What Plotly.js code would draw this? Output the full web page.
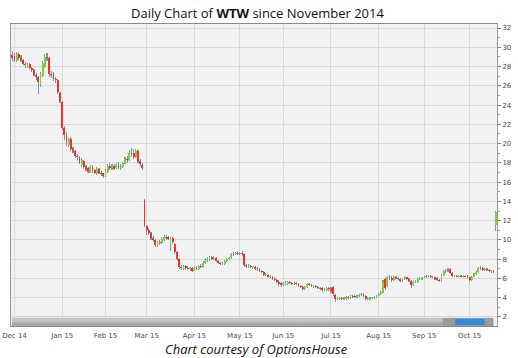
<!DOCTYPE html>
<html><head><meta charset="utf-8">
<script src="https://cdn.plot.ly/plotly-3.0.1.min.js"></script>
<style>html,body{margin:0;padding:0;background:#fff}#chart{width:518px;height:358px}</style>
</head><body><div id="chart"></div>
<script>
const startDate = '2014-11-28';
const endDate = '2015-10-19';
const holidays = ['2014-12-25','2015-01-01','2015-01-19','2015-02-16','2015-04-03','2015-05-25','2015-07-03','2015-09-07'];
const monthTickLabels = ['Dec 14','Jan 15','Feb 15','Mar 15','Apr 15','May 15','Jun 15','Jul 15','Aug 15','Sep 15','Oct 15'];
const yTickValues = [2,4,6,8,10,12,14,16,18,20,22,24,26,28,30,32];

const opens = [
 29.2,29.1,28.6,29.3,28.9,28.7,28.3,28.0,28.3,27.9,27.6,27.1,26.9,26.2,27.0,28.0,29.0,28.9,27.2,27.2,26.7,26.6,25.3,
 24.3,21.6,20.9,19.9,20.5,19.4,19.2,18.7,18.6,17.8,18.2,17.6,17.5,17.0,17.6,17.3,16.9,17.4,17.0,16.9,
 16.6,17.1,17.7,17.5,17.7,17.5,17.8,17.6,17.6,18.0,18.4,18.3,19.0,19.0,18.6,19.2,18.2,17.8,14.1,
 11.4,11.0,10.7,10.2,10.0,9.4,9.8,9.7,10.0,10.3,10.3,9.6,10.2,9.6,8.7,8.0,7.2,7.0,7.3,7.1,7.0,7.1,
 6.8,7.1,7.0,7.3,7.2,7.6,7.9,7.9,8.2,8.0,8.1,7.8,7.6,7.5,7.5,7.8,8.0,8.1,8.5,8.5,8.6,
 8.5,8.6,8.5,7.4,7.3,7.3,7.2,7.2,7.0,7.0,6.8,6.7,6.4,6.4,6.2,6.2,5.9,5.8,5.6,5.5,
 5.3,5.5,5.4,5.6,5.5,5.4,5.5,5.4,5.2,5.1,4.9,5.1,5.4,5.3,5.2,5.2,5.1,5.0,5.0,4.8,4.8,5.0,
 5.0,5.1,4.3,3.9,3.9,4.0,3.9,3.9,4.1,4.0,4.2,4.2,4.1,4.2,4.3,4.4,4.2,3.9,3.9,4.0,4.0,4.1,
 4.2,4.4,4.6,5.9,5.2,6.1,6.0,5.8,6.2,6.0,5.9,5.8,5.9,6.1,5.9,5.7,5.3,5.6,5.6,5.9,5.9,
 6.1,6.1,6.3,6.3,6.2,6.1,6.0,5.8,5.7,6.4,6.8,6.9,7.0,6.6,6.3,6.3,6.2,6.3,6.2,6.3,6.3,
 6.1,5.8,6.2,6.5,6.7,7.1,7.1,6.9,7.0,6.9,6.8,6.8,11.5
];
const highs = [
 29.6,29.4,29.5,29.5,29.2,28.8,28.5,28.4,28.4,28.0,27.7,27.3,27.0,27.4,28.6,29.3,29.4,29.0,27.5,27.4,26.9,26.7,25.4,
 24.4,21.8,21.2,20.6,20.7,19.6,19.3,18.9,18.7,18.5,18.3,17.8,17.6,17.8,17.8,17.4,17.6,17.5,17.2,17.0,
 17.4,17.9,18.0,17.9,17.9,18.0,18.1,17.9,18.1,18.6,18.7,19.3,19.5,19.4,19.4,19.3,18.4,18.0,14.2,
 11.6,11.2,10.8,10.4,10.1,9.9,10.0,10.3,10.5,10.5,10.4,10.3,10.3,9.7,8.8,8.1,7.4,7.4,7.4,7.3,7.2,7.2,
 7.2,7.3,7.4,7.5,7.8,8.1,8.2,8.3,8.3,8.3,8.2,7.9,7.7,7.7,7.9,8.1,8.2,8.6,8.7,8.7,8.8,
 8.7,8.8,8.6,7.5,7.5,7.4,7.3,7.3,7.2,7.1,6.9,6.8,6.6,6.5,6.4,6.3,6.1,5.9,5.8,5.6,
 5.6,5.7,5.7,5.7,5.6,5.6,5.6,5.5,5.3,5.2,5.2,5.5,5.5,5.4,5.3,5.3,5.2,5.1,5.1,5.0,5.1,5.1,
 5.1,5.2,4.4,4.1,4.1,4.1,4.1,4.2,4.2,4.3,4.3,4.3,4.3,4.4,4.5,4.5,4.3,4.1,4.1,4.1,4.2,4.3,
 4.5,4.7,5.8,6.0,6.3,6.4,6.3,6.3,6.3,6.1,6.0,6.0,6.3,6.2,6.0,5.8,5.7,5.8,6.0,6.1,6.2,
 6.3,6.4,6.4,6.4,6.3,6.2,6.1,5.9,6.5,6.9,7.0,7.1,7.1,6.7,6.4,6.4,6.4,6.4,6.4,6.4,6.4,
 6.2,6.3,6.6,6.8,7.2,7.3,7.2,7.1,7.1,7.0,6.9,6.9,13.0
];
const lows = [
 28.6,28.5,28.5,28.7,28.5,28.2,27.9,27.8,27.7,27.4,27.0,26.6,25.2,25.9,26.9,27.8,28.6,26.9,26.8,26.5,26.3,25.2,24.2,
 21.4,20.4,19.8,19.6,19.2,19.0,18.5,18.3,17.9,17.6,17.4,17.2,16.9,16.9,17.0,16.8,16.7,16.8,16.6,16.4,
 16.5,17.0,17.3,17.3,17.3,17.4,17.4,17.3,17.5,17.9,18.0,18.2,18.6,18.4,18.5,18.0,17.7,17.3,11.3,
 10.5,10.5,10.0,9.8,9.3,9.3,9.5,9.6,9.9,10.0,10.0,8.9,9.6,8.5,7.8,7.0,6.9,6.9,6.9,6.9,6.8,6.7,
 6.8,6.9,6.9,7.1,7.1,7.5,7.7,7.8,7.9,7.9,7.7,7.5,7.4,7.4,7.4,7.7,7.9,8.0,8.3,8.4,8.4,
 8.4,8.3,7.2,7.1,7.1,7.1,7.0,6.9,6.8,6.7,6.6,6.3,6.3,6.1,6.0,5.8,5.7,5.5,5.2,5.1,
 5.2,5.3,5.3,5.4,5.3,5.3,5.3,5.1,5.0,4.8,4.8,5.0,5.2,5.1,5.0,5.0,4.9,4.8,4.6,4.7,4.7,4.7,
 4.5,4.2,3.6,3.8,3.8,3.8,3.8,3.8,3.9,3.9,4.0,4.0,4.0,4.1,4.2,4.1,3.8,3.8,3.8,3.9,3.9,4.0,
 4.1,4.3,4.5,4.8,5.1,5.8,5.6,5.7,5.9,5.8,5.6,5.6,5.8,5.8,5.6,5.0,5.2,5.5,5.5,5.8,5.8,
 6.0,6.0,6.1,6.0,6.0,5.8,5.7,5.6,5.6,6.3,6.6,6.7,6.5,6.2,6.1,6.1,6.1,6.1,6.1,6.1,6.0,
 5.6,5.7,6.1,6.4,6.6,6.9,6.8,6.8,6.8,6.7,6.6,6.6,10.9
];
const closes = [
 28.9,28.6,29.3,28.9,28.7,28.3,28.2,28.3,27.9,27.6,27.1,26.9,26.4,27.2,28.4,29.0,28.9,27.2,27.1,26.7,26.6,25.4,24.4,
 21.6,20.9,20.2,20.5,19.4,19.2,18.7,18.6,18.0,18.3,17.6,17.4,17.1,17.6,17.3,17.0,17.4,17.0,16.8,16.6,
 17.2,17.7,17.5,17.7,17.4,17.8,17.6,17.7,18.0,18.4,18.3,19.0,18.9,18.6,19.2,18.2,17.9,17.5,11.6,
 11.0,10.7,10.2,10.0,9.5,9.8,9.7,10.1,10.3,10.2,10.1,10.2,9.8,8.7,8.0,7.2,7.1,7.3,7.1,7.0,7.1,6.8,
 7.1,7.0,7.3,7.2,7.6,7.9,8.0,8.2,8.0,8.1,7.8,7.6,7.5,7.6,7.8,8.0,8.1,8.5,8.5,8.6,8.5,
 8.6,8.5,7.4,7.3,7.3,7.2,7.2,7.0,7.0,6.8,6.7,6.4,6.4,6.2,6.2,5.9,5.8,5.6,5.4,5.3,
 5.5,5.5,5.6,5.5,5.4,5.5,5.4,5.2,5.1,4.9,5.1,5.4,5.3,5.2,5.2,5.1,5.0,4.9,4.8,4.9,5.0,4.9,
 4.7,4.4,3.9,4.0,4.0,3.9,4.0,4.1,4.0,4.2,4.1,4.1,4.2,4.3,4.4,4.2,3.9,4.0,4.0,4.0,4.1,4.2,
 4.4,4.6,5.6,5.0,6.1,6.0,5.8,6.2,6.0,5.9,5.7,5.9,6.1,5.9,5.7,5.3,5.6,5.7,5.9,5.9,6.1,
 6.2,6.3,6.3,6.1,6.1,5.9,5.8,5.7,6.4,6.8,6.9,7.0,6.6,6.3,6.3,6.2,6.3,6.2,6.3,6.2,6.1,
 5.8,6.2,6.5,6.7,7.1,7.0,6.9,7.0,6.9,6.8,6.8,6.7,12.9
];

// trading days (weekdays, minus market holidays)
const dates = [];
(function(){
  const d = new Date(startDate + 'T00:00:00Z');
  const end = new Date(endDate + 'T00:00:00Z');
  while (d <= end) {
    const s = d.toISOString().slice(0,10);
    const wd = d.getUTCDay();
    if (wd !== 0 && wd !== 6 && holidays.indexOf(s) < 0) dates.push(s);
    d.setUTCDate(d.getUTCDate() + 1);
  }
})();

const tickVals = [];
for (let i = 1; i < dates.length; i++) {
  if (dates[i].slice(5,7) !== dates[i-1].slice(5,7)) tickVals.push(dates[i]);
}

const UP = '#7fcf38', DOWN = '#ff2a2a', WICK = '#6a9ea2';
const bodyBase = opens.map((o,i) => Math.min(o, closes[i]));
const bodyH = opens.map((o,i) => Math.max(Math.abs(closes[i]-o), 0.06));
const bodyCol = opens.map((o,i) => closes[i] >= o ? UP : DOWN);
const wickH = highs.map((h,i) => h - lows[i]);

const traces = [
  {type:'bar', x:dates, y:wickH, base:lows, width:0.5, marker:{color:WICK, line:{width:0}}, hoverinfo:'skip'},
  {type:'bar', x:dates, y:bodyH, base:bodyBase, width:0.85, marker:{color:bodyCol, line:{width:0}}, hoverinfo:'skip'}
];

const layout = {
  width:518, height:358,
  margin:{l:11, r:21, t:24, b:32},
  paper_bgcolor:'#ffffff', plot_bgcolor:'#f2f2f2',
  showlegend:false, barmode:'overlay', bargap:0, hovermode:false,
  font:{family:'DejaVu Sans', color:'#444'},
  title:{text:'Daily Chart of <b>WTW</b> since November 2014',
         font:{family:'Open Sans', size:13, color:'#111'},
         x:0.497, xref:'container', xanchor:'center', y:0.963, yref:'container', yanchor:'middle'},
  xaxis:{type:'category', range:[-0.6, dates.length - 0.4], tickmode:'array', tickvals:tickVals, ticktext:monthTickLabels,
         tickangle:0, showgrid:true, gridcolor:'#dadada', gridwidth:1, ticks:'outside', ticklen:3, tickcolor:'rgba(0,0,0,0)',
         tickfont:{family:'DejaVu Sans', size:7, color:'#4a4a4a'},
         showline:true, linecolor:'#8a8a8a', mirror:true, zeroline:false, fixedrange:true},
  yaxis:{side:'right', range:[1.06, 32.42], tickmode:'array', tickvals:yTickValues,
         ticks:'outside', ticklen:3, tickcolor:'#777',
         tickfont:{family:'DejaVu Sans', size:7, color:'#444'},
         showgrid:true, gridcolor:'#dadada', zeroline:false,
         showline:true, linecolor:'#9a9a9a', mirror:true,
         minor:{dtick:1, tick0:1, ticks:'outside', ticklen:2, tickcolor:'#999', showgrid:false}},
  shapes:[
    {type:'rect', xref:'paper', yref:'paper', x0:0.002, x1:0.992, y0:0.0, y1:0.027, fillcolor:'#c4c4c4', line:{width:0}, layer:'above'},
    {type:'rect', xref:'paper', yref:'paper', x0:0.002, x1:0.992, y0:0.0, y1:0.012, fillcolor:'#a9a9a9', line:{width:0}, layer:'above'},
    {type:'rect', xref:'paper', yref:'paper', x0:0.889, x1:0.914, y0:0.002, y1:0.025, fillcolor:'#9c9c9c', line:{color:'#8a8a8a', width:0.5}, layer:'above'},
    {type:'rect', xref:'paper', yref:'paper', x0:0.914, x1:0.975, y0:0.002, y1:0.025, fillcolor:'#3a8bd6', line:{width:0}, layer:'above'},
    {type:'rect', xref:'paper', yref:'paper', x0:0.975, x1:0.992, y0:0.002, y1:0.025, fillcolor:'#9c9c9c', line:{color:'#8a8a8a', width:0.5}, layer:'above'}
  ],
  annotations:[
    {text:'<i>Chart courtesy of OptionsHouse</i>', xref:'paper', yref:'paper', x:0.506, y:-0.076,
     xanchor:'center', yanchor:'middle', showarrow:false, font:{family:'Open Sans', size:13, color:'#111'}}
  ]
};

Plotly.newPlot('chart', traces, layout, {staticPlot:true, displayModeBar:false});
</script>
</body></html>
